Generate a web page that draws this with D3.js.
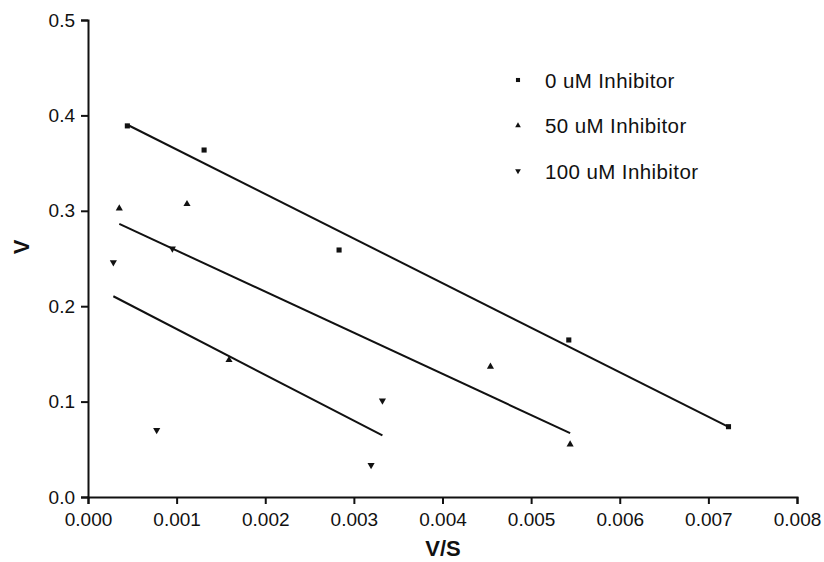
<!DOCTYPE html>
<html lang="en">
<head>
    <meta charset="UTF-8">
    <title>V vs V/S</title>
    <script src="https://d3js.org/d3.v7.min.js"></script>
    <style>
        body { margin: 0; background: #fff; }
        svg { display: block; }
        .tick text { font-family: "Liberation Sans", Arial, sans-serif; font-size: 19px; fill: #111; }
        .axis path, .axis line { stroke: #111; stroke-width: 2px; }
        .title { font-family: "Liberation Sans", Arial, sans-serif; font-size: 22px; font-weight: bold; fill: #111; }
        .legend text { font-family: "Liberation Sans", Arial, sans-serif; font-size: 20.5px; fill: #111; letter-spacing: 0.4px; }
    </style>
</head>
<body>
    <svg width="824" height="562"></svg>
    <script>
        // series labels
        const seriesNames = ["0 uM Inhibitor", "50 uM Inhibitor", "100 uM Inhibitor"];

        // V/S values (x) and V values (y) for each inhibitor concentration
        const vs0 = [0.000444, 0.00131, 0.002833, 0.005425, 0.007227];
        const v0 = [0.389, 0.3637, 0.2589, 0.1646, 0.0737];

        const vs50 = [0.000353, 0.001117, 0.001591, 0.004541, 0.00544];
        const v50 = [0.3026, 0.3071, 0.1436, 0.1366, 0.0552];

        const vs100 = [0.000286, 0.000952, 0.000775, 0.003322, 0.003194];
        const v100 = [0.246, 0.2603, 0.0702, 0.101, 0.0335];

        const xTicks = [0, 0.001, 0.002, 0.003, 0.004, 0.005, 0.006, 0.007, 0.008];
        const yTicks = [0, 0.1, 0.2, 0.3, 0.4, 0.5];

        const svg = d3.select("svg");

        const x = d3.scaleLinear().domain([0, 0.008]).range([88, 797]);
        const y = d3.scaleLinear().domain([0, 0.5]).range([497, 20]);

        const series = [
            {name: seriesNames[0], xs: vs0, ys: v0, shape: "square"},
            {name: seriesNames[1], xs: vs50, ys: v50, shape: "up"},
            {name: seriesNames[2], xs: vs100, ys: v100, shape: "down"}
        ];

        // marker path for each shape
        function marker(shape, scale) {
            const s = scale || 1;
            if (shape === "square") return d3.symbol(d3.symbolSquare, 26 * s * s)();
            return d3.symbol(d3.symbolTriangle, 22 * s * s)();
        }

        // least squares fit, drawn from min x to max x
        function fit(xs, ys) {
            const mx = d3.mean(xs), my = d3.mean(ys);
            let sxy = 0, sxx = 0;
            xs.forEach((xv, i) => {
                sxy += (xv - mx) * (ys[i] - my);
                sxx += (xv - mx) * (xv - mx);
            });
            const slope = sxy / sxx;
            const x1 = d3.min(xs), x2 = d3.max(xs);
            return [[x1, my + slope * (x1 - mx)], [x2, my + slope * (x2 - mx)]];
        }

        // axes
        svg.append("g")
            .attr("class", "axis")
            .attr("transform", "translate(0,497)")
            .call(d3.axisBottom(x).tickValues(xTicks).tickFormat(d3.format(".3f")).tickSizeOuter(0).tickSize(7).tickPadding(9));

        svg.append("g")
            .attr("class", "axis")
            .attr("transform", "translate(88,0)")
            .call(d3.axisLeft(y).tickValues(yTicks).tickFormat(d3.format(".1f")).tickSizeOuter(0).tickSize(7).tickPadding(6));

        // fitted lines
        const line = d3.line().x(d => x(d[0])).y(d => y(d[1]));
        svg.selectAll(".fit")
            .data(series)
            .enter().append("path")
            .attr("class", "fit")
            .attr("d", d => line(fit(d.xs, d.ys)))
            .attr("fill", "none")
            .attr("stroke", "#111")
            .attr("stroke-width", 2);

        // points
        series.forEach(s => {
            svg.selectAll(null)
                .data(s.xs.map((xv, i) => [xv, s.ys[i]]))
                .enter().append("path")
                .attr("d", marker(s.shape))
                .attr("transform", d => "translate(" + x(d[0]) + "," + y(d[1]) + ")" + (s.shape === "down" ? " rotate(180)" : ""))
                .attr("fill", "#111");
        });

        // legend
        const legend = svg.append("g").attr("class", "legend");
        const rows = legend.selectAll("g")
            .data(series)
            .enter().append("g")
            .attr("transform", (d, i) => "translate(518," + (80 + i * 45.5) + ")");
        rows.append("path")
            .attr("d", d => marker(d.shape, 0.8))
            .attr("transform", d => d.shape === "down" ? "rotate(180)" : null)
            .attr("fill", "#111");
        rows.append("text")
            .attr("x", 27)
            .attr("y", 7.5)
            .text(d => d.name);

        // axis titles
        svg.append("text")
            .attr("class", "title")
            .attr("x", 443)
            .attr("y", 556)
            .attr("text-anchor", "middle")
            .text("V/S");

        svg.append("text")
            .attr("class", "title")
            .attr("transform", "translate(29,247) rotate(-90)")
            .attr("text-anchor", "middle")
            .text("V");
    </script>
</body>
</html>
